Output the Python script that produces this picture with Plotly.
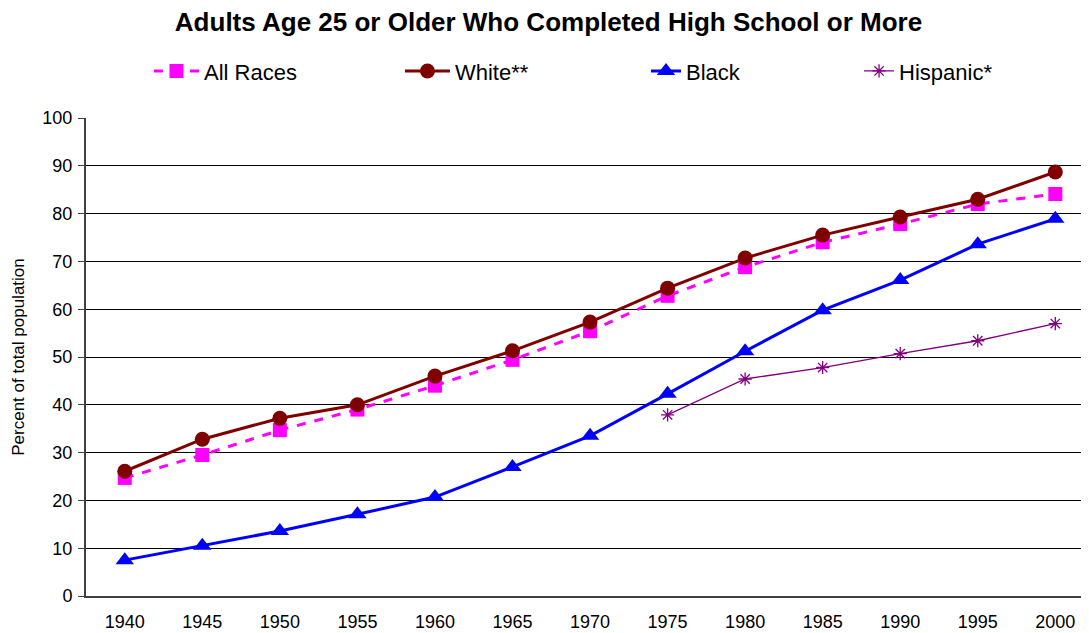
import plotly.graph_objects as go

years = ["1940", "1945", "1950", "1955", "1960", "1965", "1970",
         "1975", "1980", "1985", "1990", "1995", "2000"]
all_races = [24.7, 29.5, 34.7, 39.0, 44.0, 49.4, 55.4, 62.8, 68.8, 74.0, 77.8, 82.0, 84.1]
white = [26.1, 32.8, 37.2, 40.0, 46.0, 51.3, 57.3, 64.4, 70.7, 75.5, 79.3, 83.0, 88.7]
black = [7.5, 10.5, 13.6, 17.1, 20.7, 27.0, 33.5, 42.3, 51.2, 59.8, 66.1, 73.6, 78.9]
hispanic_years = ["1975", "1980", "1985", "1990", "1995", "2000"]
hispanic = [37.9, 45.4, 47.8, 50.7, 53.4, 57.0]

font = "Liberation Sans, Arial, sans-serif"

fig = go.Figure()
fig.add_trace(go.Scatter(x=years, y=all_races, name="All Races", mode="lines+markers",
                         line=dict(color="#FF00FF", width=3, dash="dash"),
                         marker=dict(symbol="square", size=14, color="#FF00FF"),
                         legend="legend", showlegend=True))
fig.add_trace(go.Scatter(x=years, y=white, name="White**", mode="lines+markers",
                         line=dict(color="#800000", width=3),
                         marker=dict(symbol="circle", size=15, color="#800000"),
                         legend="legend2"))
fig.add_trace(go.Scatter(x=years, y=black, name="Black", mode="lines+markers",
                         line=dict(color="#0000FF", width=3),
                         marker=dict(symbol="triangle-up", size=16, color="#0000FF"),
                         legend="legend3"))
fig.add_trace(go.Scatter(x=hispanic_years, y=hispanic, name="Hispanic*", mode="lines+markers",
                         line=dict(color="#800080", width=1.3),
                         marker=dict(symbol="asterisk-open", size=11,
                                     line=dict(color="#800080", width=1.3)),
                         legend="legend4"))

# one legend per series, so that each entry can sit where it does in the original
leg = dict(orientation="h", xanchor="left", y=1.098, yanchor="middle",
           font=dict(family=font, size=22, color="black"), bgcolor="rgba(0,0,0,0)")

fig.update_layout(
    width=1081, height=625,
    margin=dict(l=78, r=5, t=110, b=37),
    paper_bgcolor="white", plot_bgcolor="white",
    font=dict(family=font, size=18, color="black"),
    showlegend=True,
    title=dict(text="<b>Adults Age 25 or Older Who Completed High School or More</b>",
               x=0.5, xanchor="center", y=0.978, yanchor="middle",
               font=dict(family=font, size=26, color="black")),
    legend=dict(leg, x=0.0631, itemwidth=45),
    legend2=dict(leg, x=0.3146, itemwidth=45),
    legend3=dict(leg, x=0.5611, itemwidth=30),
    legend4=dict(leg, x=0.7746, itemwidth=30),
)
fig.update_xaxes(type="category", categoryorder="array", categoryarray=years,
                 showline=True, linecolor="#404040", linewidth=2,
                 ticks="", showgrid=False, tickfont=dict(size=18),
                 ticklabelstandoff=8, automargin=False, range=[-0.5, 12.37])
fig.update_yaxes(range=[0, 100], dtick=10, showline=True, linecolor="#404040", linewidth=2,
                 ticks="outside", ticklen=6, tickcolor="#404040",
                 showgrid=True, gridcolor="black", gridwidth=1, zeroline=False,
                 tickfont=dict(size=18), ticklabelstandoff=2,
                 title=dict(text="Percent of total population", font=dict(size=17), standoff=13))

fig.write_html("out.html")
